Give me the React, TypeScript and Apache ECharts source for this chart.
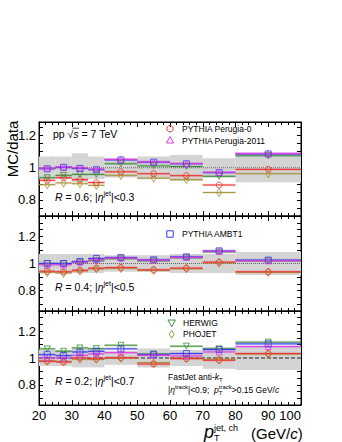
import React, { useEffect, useRef } from 'react';
import * as echarts from 'echarts';

const binLow = [20, 25, 30, 35, 40, 50, 60, 70, 80];
const binHigh = [25, 30, 35, 40, 50, 60, 70, 80, 100];
const binCenter = [22.5, 27.5, 32.5, 37.5, 45, 55, 65, 75, 90];

const xTicks = [20, 30, 40, 50, 60, 70, 80, 90, 100];
const yTickLabels = [0.8, 1, 1.2];

// R = 0.6
const sysR06 = [0.07, 0.07, 0.09, 0.07, 0.06, 0.07, 0.08, 0.06, 0.09];
const p0R06 = [0.922, 0.938, 0.926, 0.908, 0.975, 0.963, 0.951, 0.893, 0.99];
const p11R06 = [0.998, 1.006, 1.0, 0.992, 1.052, 1.037, 1.027, 0.972, 1.09];
const ambt1R06 = [0.994, 1.003, 0.996, 0.988, 1.049, 1.035, 1.025, 0.97, 1.086];
const herwigR06 = [0.938, 0.953, 0.959, 0.959, 1.025, 1.012, 1.008, 0.947, 1.075];
const phojetR06 = [0.895, 0.906, 0.901, 0.891, 0.953, 0.936, 0.926, 0.846, 0.963];

// R = 0.4
const sysR04 = [0.07, 0.07, 0.07, 0.07, 0.06, 0.06, 0.07, 0.07, 0.085];
const p0R04 = [0.943, 0.939, 0.951, 0.966, 0.97, 0.953, 0.966, 1.01, 0.939];
const p11R04 = [0.99, 0.99, 1.01, 1.027, 1.04, 1.025, 1.045, 1.09, 1.02];
const ambt1R04 = [1.0, 1.0, 1.015, 1.037, 1.044, 1.027, 1.049, 1.093, 1.025];
const herwigR04 = [1.0, 0.998, 1.01, 1.02, 1.035, 1.02, 1.042, 1.085, 1.02];
const phojetR04 = [0.935, 0.93, 0.945, 0.96, 0.965, 0.95, 0.962, 1.005, 0.935];

// R = 0.2
const sysR02 = [0.06, 0.06, 0.07, 0.07, 0.05, 0.07, 0.06, 0.08, 0.09];
const p0R02 = [0.975, 0.97, 1.0, 0.995, 1.002, 0.955, 0.995, 0.983, 1.033];
const p11R02 = [1.0, 1.0, 1.02, 1.03, 1.04, 1.02, 1.015, 1.045, 1.085];
const ambt1R02 = [1.025, 1.018, 1.045, 1.05, 1.068, 1.025, 1.033, 1.063, 1.105];
const herwigR02 = [1.068, 1.05, 1.075, 1.07, 1.095, 1.03, 1.088, 1.068, 1.118];
const phojetR02 = [0.98, 0.975, 0.99, 0.99, 1.0, 0.965, 1.0, 0.99, 1.03];

const FONT = '"Liberation Sans", Arial, Helvetica, sans-serif';

const models = [
  { name: 'PHOJET', color: '#a8943c', symbol: 'diamond', size: [5, 8], rotate: 0 },
  { name: 'PYTHIA Perugia-0', color: '#ee3030', symbol: 'circle', size: 6, rotate: 0 },
  { name: 'HERWIG', color: '#3a8f3a', symbol: 'triangle', size: 6, rotate: 180 },
  { name: 'PYTHIA AMBT1', color: '#3838f0', symbol: 'rect', size: 6, rotate: 0 },
  { name: 'PYTHIA Perugia-2011', color: '#e03ce0', symbol: 'triangle', size: 6, rotate: 0 },
];

const panels = [
  { top: 122, height: 94, min: 0.7, max: 1.285, sys: sysR06, vals: [phojetR06, p0R06, herwigR06, ambt1R06, p11R06], refColor: '#666', refType: 'dotted' },
  { top: 216, height: 95, min: 0.65, max: 1.35, sys: sysR04, vals: [phojetR04, p0R04, herwigR04, ambt1R04, p11R04], refColor: '#666', refType: 'dotted' },
  { top: 311, height: 94, min: 0.65, max: 1.35, sys: sysR02, vals: [phojetR02, p0R02, herwigR02, ambt1R02, p11R02], refColor: '#222', refType: 'dashed' },
];

function buildOption() {
  const grid: any[] = [];
  const xAxis: any[] = [];
  const yAxis: any[] = [];
  const series: any[] = [];
  panels.forEach((p, i) => {
    grid.push({ left: 39, right: 41, top: p.top, height: p.height, show: true, borderColor: '#000', borderWidth: 1, backgroundColor: 'transparent' });
    ['bottom', 'top'].forEach((pos) => {
      xAxis.push({
        gridIndex: i, type: 'value', min: 20, max: 100, interval: 10, position: pos,
        axisLine: { show: true, onZero: false, lineStyle: { color: '#000', width: 1 } },
        axisTick: { show: true, inside: true, length: 5, lineStyle: { color: '#000', width: 1 } },
        minorTick: { show: true, splitNumber: 5, length: 3, lineStyle: { color: '#000', width: 1 } },
        splitLine: { show: false },
        axisLabel: i === 2 && pos === 'bottom' ? {
          show: true, fontSize: 13, color: '#000', fontFamily: FONT, margin: 4, alignMaxLabel: 'right',
          formatter: (v: number) => (xTicks.includes(Math.round(v)) ? String(Math.round(v)) : ''),
        } : { show: false },
      });
    });
    ['left', 'right'].forEach((pos) => {
      yAxis.push({
        gridIndex: i, type: 'value', min: p.min, max: p.max, interval: 0.05, position: pos,
        axisLine: { show: true, onZero: false, lineStyle: { color: '#000', width: 1 } },
        axisTick: { show: true, inside: true, length: 4, lineStyle: { color: '#000', width: 1 } },
        splitLine: { show: false },
        axisLabel: pos === 'left' ? {
          show: true, fontSize: 13, color: '#000', fontFamily: FONT, margin: 3,
          showMinLabel: true, showMaxLabel: true,
          formatter: (v: number) => {
            const t = yTickLabels.find((l) => Math.abs(l - v) < 1e-6);
            return t === undefined ? '' : String(t);
          },
        } : { show: false },
      });
    });
    const xi = 2 * i;
    const yi = 2 * i;
    series.push({
      type: 'custom', xAxisIndex: xi, yAxisIndex: yi, z: 1,
      data: binLow.map((lo, k) => [lo, binHigh[k], 1, p.sys[k]]),
      renderItem: (params: any, api: any) => {
        const a = api.coord([api.value(0), api.value(2) + api.value(3)]);
        const b = api.coord([api.value(1), api.value(2) - api.value(3)]);
        return { type: 'rect', shape: { x: a[0], y: a[1], width: b[0] - a[0], height: b[1] - a[1] }, style: { fill: '#d4d4d4' } };
      },
    });
    series.push({
      type: 'line', xAxisIndex: xi, yAxisIndex: yi, z: 2, symbol: 'none',
      data: [[20, 1], [100, 1]],
      lineStyle: { color: p.refColor, width: 1, type: p.refType },
    });
    models.forEach((m, k) => {
      const vals = p.vals[k];
      series.push({
        type: 'custom', xAxisIndex: xi, yAxisIndex: yi, z: 3 + k,
        data: binLow.map((lo, j) => [lo, binHigh[j], vals[j]]),
        renderItem: (params: any, api: any) => {
          const a = api.coord([api.value(0), api.value(2)]);
          const b = api.coord([api.value(1), api.value(2)]);
          return {
            type: 'group',
            children: [
              { type: 'rect', shape: { x: a[0], y: a[1] - 1.3, width: b[0] - a[0], height: 2.6 }, style: { fill: m.color, opacity: 0.22 } },
              { type: 'line', shape: { x1: a[0], y1: a[1], x2: b[0], y2: b[1] }, style: { stroke: m.color, lineWidth: 1 } },
            ],
          };
        },
      });
      series.push({
        type: 'scatter', xAxisIndex: xi, yAxisIndex: yi, z: 10 + k,
        symbol: m.symbol, symbolSize: m.size, symbolRotate: m.rotate,
        data: binCenter.map((c, j) => [c, vals[j]]),
        itemStyle: { color: 'rgba(255,255,255,0)', borderColor: m.color, borderWidth: 1 },
      });
    });
  });

  const rich = {
    i: { fontStyle: 'italic', fontSize: 10.5, fontFamily: FONT, fill: '#000', lineHeight: 14 },
    sup: { fontSize: 7, fontFamily: FONT, verticalAlign: 'top', lineHeight: 14, fill: '#000' },
    sub: { fontSize: 7, fontFamily: FONT, verticalAlign: 'bottom', lineHeight: 14, fill: '#000' },
  };
  const smallRich = {
    i: { fontStyle: 'italic', fontSize: 8.5, fontFamily: FONT, fill: '#000', lineHeight: 12 },
    sup: { fontSize: 6, fontFamily: FONT, verticalAlign: 'top', lineHeight: 12, fill: '#000' },
    sub: { fontSize: 6, fontFamily: FONT, verticalAlign: 'bottom', lineHeight: 12, fill: '#000' },
    subz: { fontSize: 6, fontFamily: FONT, verticalAlign: 'bottom', lineHeight: 12, fill: '#000', width: 0.01 },
  };
  const txt = (x: number, y: number, text: string, size: number, r?: any) => ({
    type: 'text', x, y, z: 100,
    style: { text, fontSize: size, fontFamily: FONT, fill: '#000', verticalAlign: 'middle', align: 'left', rich: r, lineHeight: size + 3 },
  });
  const legendText = (x: number, y: number, t: string) => txt(x, y, t, 8.5);

  const graphic: any[] = [
    { type: 'text', x: 12, y: 149, rotation: Math.PI / 2, z: 100, style: { text: 'MC/data', fontSize: 15, fontFamily: FONT, fill: '#000', align: 'center', verticalAlign: 'middle' } },
    txt(53, 134, 'pp √{i|s} = 7 TeV', 10.5, rich),
    { type: 'line', z: 100, shape: { x1: 72.5, y1: 128.2, x2: 79, y2: 128.2 }, style: { stroke: '#000', lineWidth: 0.7 } },
    txt(55, 197, '{i|R} = 0.6; |{i|η}{sup|jet}|<0.3', 10.5, rich),
    txt(55, 287, '{i|R} = 0.4; |{i|η}{sup|jet}|<0.5', 10.5, rich),
    txt(55, 381, '{i|R} = 0.2; |{i|η}{sup|jet}|<0.7', 10.5, rich),
    txt(168, 376.5, 'FastJet anti-{i|k}{sub|T}', 8.5, smallRich),
    txt(168, 390, '|{i|η}{sup|track}|<0.9;  {i|p}{subz|T}{sup|track}>0.15 GeV/{i|c}', 8.5, smallRich),
    { type: 'circle', z: 100, shape: { cx: 170, cy: 128.7, r: 3.2 }, style: { fill: 'none', stroke: models[1].color, lineWidth: 1 } },
    legendText(182, 128.7, 'PYTHIA Perugia-0'),
    { type: 'polygon', z: 100, shape: { points: [[170, 136.5], [173.6, 143], [166.4, 143]] }, style: { fill: 'none', stroke: models[4].color, lineWidth: 1 } },
    legendText(182, 140.5, 'PYTHIA Perugia-2011'),
    { type: 'rect', z: 100, shape: { x: 166.8, y: 230.8, width: 6.4, height: 6.4 }, style: { fill: 'none', stroke: models[3].color, lineWidth: 1 } },
    legendText(182, 234, 'PYTHIA AMBT1'),
    { type: 'polygon', z: 100, shape: { points: [[168, 320], [175.4, 320], [171.7, 326.8]] }, style: { fill: 'none', stroke: models[2].color, lineWidth: 1 } },
    legendText(183, 323.3, 'HERWIG'),
    { type: 'polygon', z: 100, shape: { points: [[171.7, 330.5], [174.2, 334.3], [171.7, 338.1], [169.2, 334.3]] }, style: { fill: 'none', stroke: models[0].color, lineWidth: 1 } },
    legendText(183, 334.3, 'PHOJET'),
    { type: 'text', x: 204, y: 432, z: 100, style: { text: 'p', fontSize: 18, fontStyle: 'italic', fontFamily: FONT, fill: '#000', verticalAlign: 'middle' } },
    { type: 'text', x: 214, y: 437.5, z: 100, style: { text: 'T', fontSize: 9, fontFamily: FONT, fill: '#000', verticalAlign: 'middle' } },
    { type: 'text', x: 214, y: 428, z: 100, style: { text: 'jet, ch', fontSize: 9, fontFamily: FONT, fill: '#000', verticalAlign: 'middle' } },
    { type: 'text', x: 251, y: 433, z: 100, style: { text: '(GeV/{i|c})', fontSize: 15, fontFamily: FONT, fill: '#000', verticalAlign: 'middle', rich: { i: { fontStyle: 'italic', fontSize: 15, fontFamily: FONT, fill: '#000' } } } },
  ];

  return {
    animation: false,
    backgroundColor: '#fff',
    grid, xAxis, yAxis, series, graphic,
  };
}

export default function App() {
  const ref = useRef<HTMLDivElement>(null);
  useEffect(() => {
    const chart = echarts.init(ref.current!, null, { renderer: 'svg' });
    chart.setOption(buildOption() as any);
    return () => chart.dispose();
  }, []);
  return <div ref={ref} style={{ position: 'fixed', left: 0, top: 0, width: 342, height: 442, background: '#fff' }} />;
}
